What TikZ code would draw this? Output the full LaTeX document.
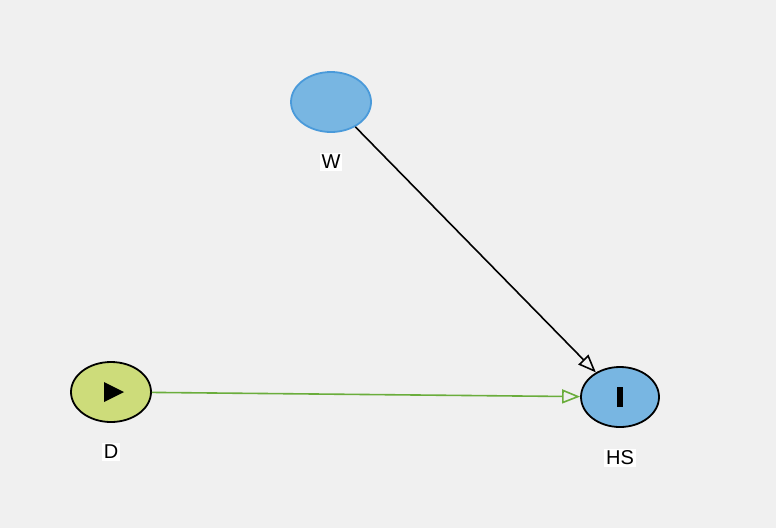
\documentclass[tikz,border=0pt]{standalone}
\usepackage{fontspec}
\setmainfont{Liberation Sans}
\usetikzlibrary{shapes.geometric,arrows.meta}
\definecolor{bg}{HTML}{F0F0F0}
\definecolor{nodeblue}{HTML}{78B6E2}
\definecolor{wborder}{HTML}{4A9ADA}
\definecolor{dgreen}{HTML}{CDDC7A}
\definecolor{edgegreen}{HTML}{6AAD3C}
\begin{document}
\begin{tikzpicture}[x=1pt,y=-1pt,
  var/.style={ellipse,minimum width=80pt,minimum height=60pt,inner sep=0pt,line width=1.8pt},
  lab/.style={fill=white,inner sep=2pt,font=\fontsize{20}{22}\selectfont},
  edge/.style={line width=1.6pt,-{Triangle[open,length=18pt,width=14pt]}}]
\fill[bg] (0,0) rectangle (776,528);
\useasboundingbox (0,0) rectangle (776,528);
\node[var,fill=nodeblue,draw=wborder] (W) at (331,102) {};
\node[var,fill=dgreen,draw=black] (D) at (111,392) {};
\node[var,fill=nodeblue,draw=black,minimum width=78pt] (HS) at (620,397) {};
\fill[black] (104,382) -- (124,392) -- (104,402) -- cycle;
\fill[black] (617,387) rectangle (623,407);
\node[lab] (WL) at (331,162) {W};
\node[lab] (DL) at (111,452) {D};
\node[lab] (HSL) at (620,458) {HS};
\draw[edge,draw=black] (W) -- (HS);
\draw[edge,draw=edgegreen] (D) -- (HS);
\end{tikzpicture}
\end{document}
